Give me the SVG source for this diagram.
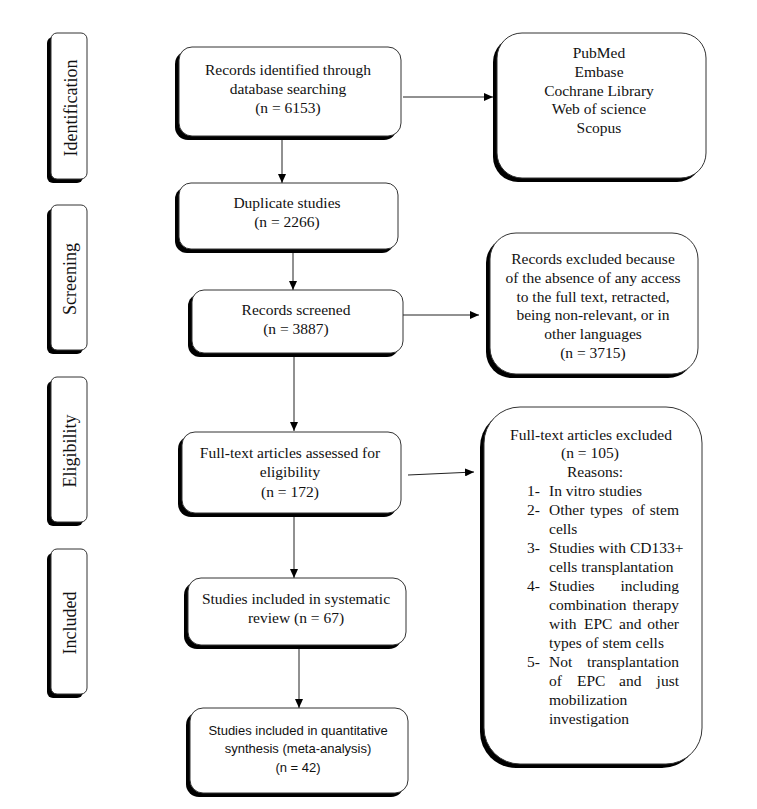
<svg xmlns="http://www.w3.org/2000/svg" width="757" height="809" viewBox="0 0 757 809">
<defs>
<style>
.sh{fill:#000;stroke:none}
.bx{fill:#fff;stroke:#333;stroke-width:1}
.t{font-family:"Liberation Serif","Times New Roman",serif;font-size:15.5px;fill:#111}
.tc{text-anchor:middle}
.te{text-anchor:end}
.s{font-family:"Liberation Sans",Arial,sans-serif;font-size:13px;fill:#111;text-anchor:middle}
.side{font-family:"Liberation Serif","Times New Roman",serif;font-size:18px;fill:#111;text-anchor:middle}
.ln{stroke:#222;stroke-width:1;fill:none;marker-end:url(#ah)}
</style>
<marker id="ah" markerWidth="9" markerHeight="8" refX="9" refY="4" orient="auto" markerUnits="userSpaceOnUse">
<path d="M0,0 L9,4 L0,8 Z" fill="#000"/>
</marker>
</defs>
<rect width="757" height="809" fill="#fff"/>

<g id="side-identification">
<rect class="sh" x="47" y="37" width="36" height="146" rx="6"/>
<rect class="bx" x="51" y="33" width="36" height="146" rx="6"/>
<text class="side" transform="translate(77,108) rotate(-90)">Identification</text>
</g>
<g id="side-screening">
<rect class="sh" x="47" y="209" width="36" height="145" rx="6"/>
<rect class="bx" x="51" y="205" width="36" height="145" rx="6"/>
<text class="side" transform="translate(76,279) rotate(-90)">Screening</text>
</g>
<g id="side-eligibility">
<rect class="sh" x="47" y="381" width="36" height="145" rx="6"/>
<rect class="bx" x="51" y="377" width="36" height="145" rx="6"/>
<text class="side" transform="translate(76,451) rotate(-90)">Eligibility</text>
</g>
<g id="side-included">
<rect class="sh" x="47" y="553" width="36" height="145" rx="6"/>
<rect class="bx" x="51" y="549" width="36" height="145" rx="6"/>
<text class="side" transform="translate(76,623) rotate(-90)">Included</text>
</g>

<g id="connectors">
<line class="ln" x1="282" y1="140" x2="282" y2="183"/>
<line class="ln" x1="403" y1="97" x2="493" y2="97"/>
<line class="ln" x1="293" y1="253" x2="293" y2="290"/>
<line class="ln" x1="403" y1="315" x2="479" y2="315"/>
<line class="ln" x1="294" y1="357" x2="294" y2="431"/>
<line class="ln" x1="408" y1="475" x2="474" y2="472"/>
<line class="ln" x1="294" y1="517" x2="294" y2="578"/>
<line class="ln" x1="299" y1="649" x2="299" y2="708"/>
</g>

<g id="records-identified">
<rect class="sh" x="175" y="51" width="222" height="89" rx="13"/>
<rect class="bx" x="179" y="47" width="222" height="89" rx="13"/>
<text class="t tc" x="288" y="75">Records identified through</text>
<text class="t tc" x="288" y="94">database searching</text>
<text class="t tc" x="288" y="113">(n = 6153)</text>
</g>

<g id="databases">
<rect class="sh" x="493" y="37" width="209" height="145" rx="25"/>
<rect class="bx" x="497" y="33" width="209" height="145" rx="25"/>
<text class="t tc" x="599" y="58">PubMed</text>
<text class="t tc" x="599" y="77">Embase</text>
<text class="t tc" x="599" y="96">Cochrane Library</text>
<text class="t tc" x="599" y="114">Web of science</text>
<text class="t tc" x="599" y="133">Scopus</text>
</g>

<g id="duplicates">
<rect class="sh" x="175" y="187" width="219" height="66" rx="12"/>
<rect class="bx" x="179" y="183" width="219" height="66" rx="12"/>
<text class="t tc" x="287" y="208">Duplicate studies</text>
<text class="t tc" x="287" y="227">(n = 2266)</text>
</g>

<g id="screened">
<rect class="sh" x="188" y="294" width="211" height="63" rx="12"/>
<rect class="bx" x="192" y="290" width="211" height="63" rx="12"/>
<text class="t tc" x="296" y="315">Records screened</text>
<text class="t tc" x="296" y="334">(n = 3887)</text>
</g>

<g id="records-excluded">
<rect class="sh" x="486" y="237" width="208" height="141" rx="26"/>
<rect class="bx" x="490" y="233" width="208" height="141" rx="26"/>
<text class="t tc" x="593" y="264">Records excluded because</text>
<text class="t tc" x="593" y="283">of the absence of any access</text>
<text class="t tc" x="593" y="302">to the full text, retracted,</text>
<text class="t tc" x="593" y="320">being non-relevant, or in</text>
<text class="t tc" x="593" y="339">other languages</text>
<text class="t tc" x="593" y="358">(n = 3715)</text>
</g>

<g id="fulltext-assessed">
<rect class="sh" x="178" y="436" width="219" height="81" rx="13"/>
<rect class="bx" x="182" y="432" width="219" height="81" rx="13"/>
<text class="t tc" x="290" y="458">Full-text articles assessed for</text>
<text class="t tc" x="290" y="477">eligibility</text>
<text class="t tc" x="290" y="497">(n = 172)</text>
</g>

<g id="fulltext-excluded">
<rect class="sh" x="480" y="411" width="218" height="357" rx="36"/>
<rect class="bx" x="484" y="407" width="218" height="357" rx="36"/>
<text class="t tc" x="591" y="440">Full-text articles excluded</text>
<text class="t tc" x="590" y="458">(n = 105)</text>
<text class="t tc" x="595" y="477">Reasons:</text>
<text class="t" x="527" y="496">1-</text>
<text class="t" x="549" y="496">In vitro studies</text>
<text class="t" x="527" y="515">2-</text>
<text class="t" x="549" y="515">Other</text>
<text class="t" x="590" y="515">types</text>
<text class="t" x="632" y="515">of</text>
<text class="t te" x="679" y="515">stem</text>
<text class="t" x="549" y="534">cells</text>
<text class="t" x="527" y="553">3-</text>
<text class="t" x="549" y="553">Studies with CD133+</text>
<text class="t" x="549" y="572">cells transplantation</text>
<text class="t" x="527" y="591">4-</text>
<text class="t" x="549" y="591">Studies</text>
<text class="t te" x="679" y="591">including</text>
<text class="t" x="549" y="610">combination</text>
<text class="t te" x="679" y="610">therapy</text>
<text class="t" x="549" y="629">with</text>
<text class="t" x="584" y="629">EPC</text>
<text class="t" x="619" y="629">and</text>
<text class="t te" x="679" y="629">other</text>
<text class="t" x="549" y="648">types of stem cells</text>
<text class="t" x="527" y="667">5-</text>
<text class="t" x="549" y="667">Not</text>
<text class="t te" x="679" y="667">transplantation</text>
<text class="t" x="549" y="686">of</text>
<text class="t" x="577" y="686">EPC</text>
<text class="t" x="619" y="686">and</text>
<text class="t te" x="679" y="686">just</text>
<text class="t" x="549" y="705">mobilization</text>
<text class="t" x="549" y="724">investigation</text>
</g>

<g id="systematic-review">
<rect class="sh" x="184" y="582" width="218" height="67" rx="13"/>
<rect class="bx" x="188" y="578" width="218" height="67" rx="13"/>
<text class="t tc" x="296" y="604">Studies included in systematic</text>
<text class="t tc" x="296" y="623">review (n = 67)</text>
</g>

<g id="meta-analysis">
<rect class="sh" x="186" y="712" width="218" height="85" rx="13"/>
<rect class="bx" x="190" y="708" width="218" height="85" rx="13"/>
<text class="s" x="298" y="735">Studies included in quantitative</text>
<text class="s" x="298" y="753">synthesis (meta-analysis)</text>
<text class="s" x="298" y="772">(n = 42)</text>
</g>
</svg>
